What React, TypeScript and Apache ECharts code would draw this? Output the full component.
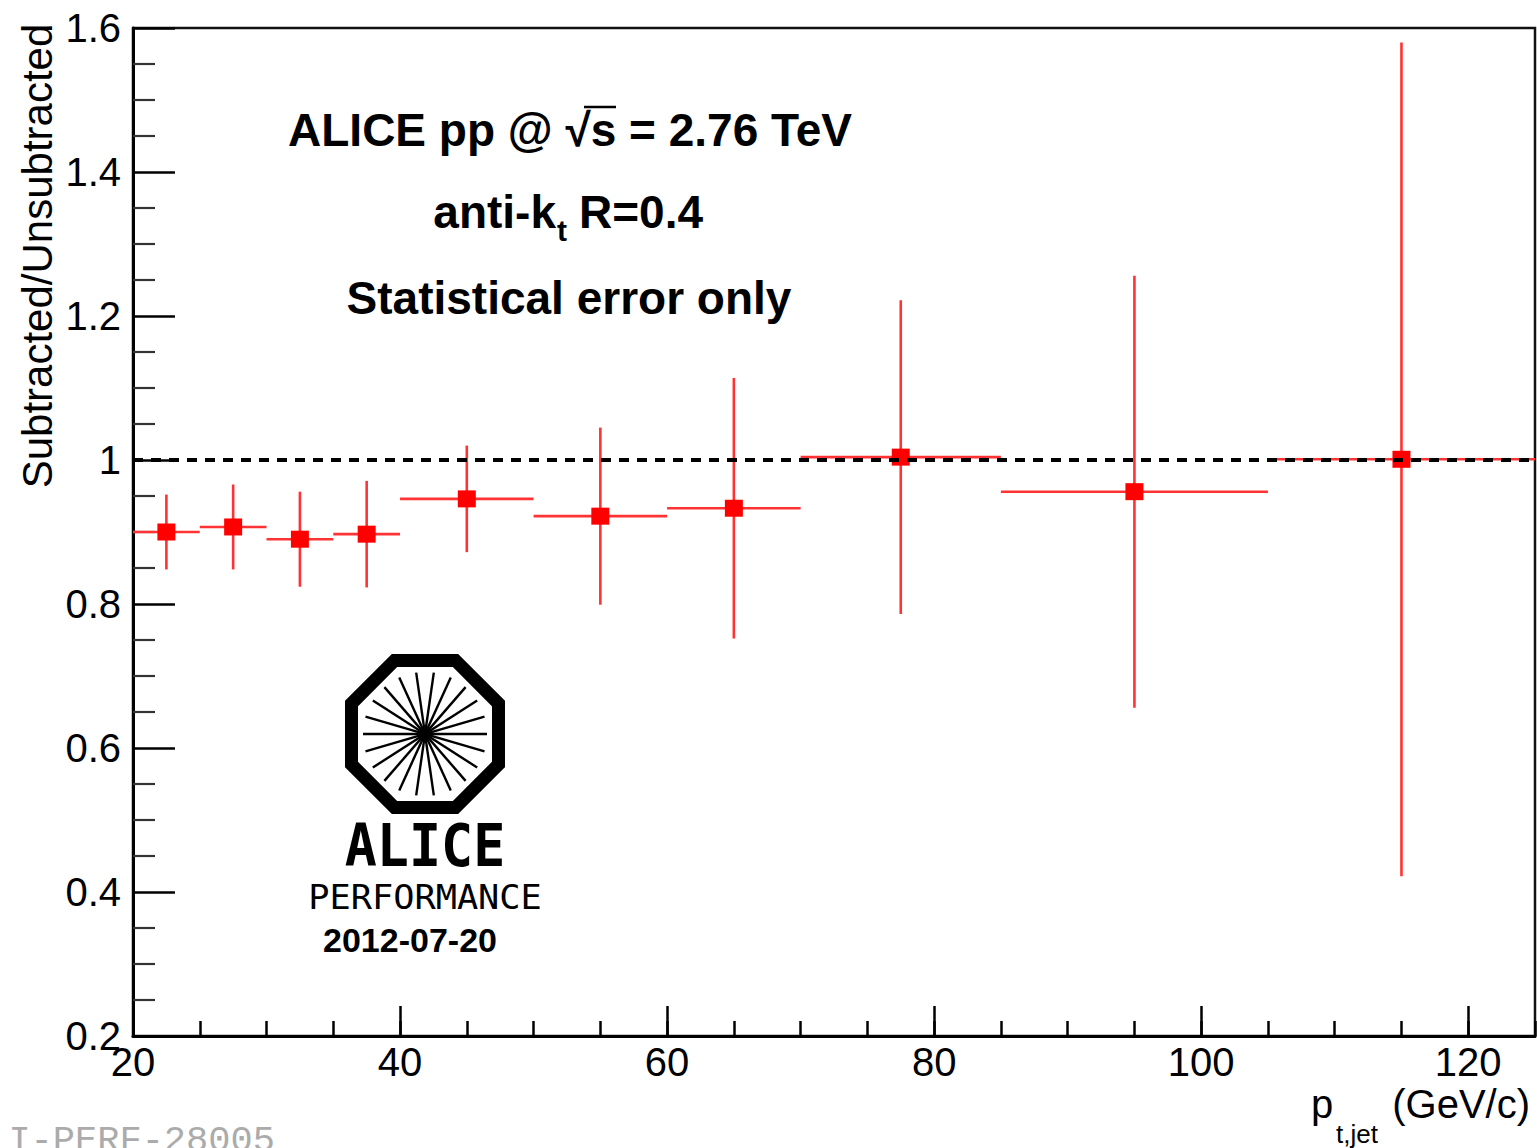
import React, { useEffect, useRef } from 'react';
import * as echarts from 'echarts';

// ---- data ----
const binLow = [20, 25, 30, 35, 40, 50, 60, 70, 85, 105];
const binHigh = [25, 30, 35, 40, 50, 60, 70, 85, 105, 125];
const ratio = [0.9, 0.907, 0.89, 0.897, 0.946, 0.922, 0.933, 1.004, 0.956, 1.001];
const statErr = [0.052, 0.059, 0.066, 0.074, 0.074, 0.123, 0.181, 0.218, 0.3, 0.579];
const referenceLevel = 1;

const xMin = 20;
const xMax = 125;
const xMajor = 20;
const xMinor = 5;
const yMin = 0.2;
const yMax = 1.6;
const yMajor = 0.2;

const FONT = "'Liberation Sans', Arial, Helvetica, sans-serif";

function txt(
  text: string,
  x: number,
  y: number,
  size: number,
  opts: any = {}
) {
  const align = opts.align || 'left';
  const valign = opts.valign || 'middle';
  return {
    type: 'text',
    x,
    y,
    rotation: opts.rotation || 0,
    scaleX: opts.scaleX || 1,
    scaleY: opts.scaleY || 1,
    silent: true,
    z: 100,
    style: {
      text,
      fill: opts.color || '#000',
      fontSize: size,
      fontFamily: opts.family || FONT,
      fontWeight: opts.weight || 'normal',
      align,
      verticalAlign: valign,
      textAlign: align,
      textVerticalAlign: valign,
    },
  };
}

function buildLogo() {
  const cx = 425;
  const cy = 734;
  const els: any[] = [];
  const R = 73.5 / Math.cos(Math.PI / 8);
  const pts: number[][] = [];
  for (let k = 0; k < 8; k++) {
    const a = Math.PI / 8 + (k * Math.PI) / 4;
    pts.push([cx + R * Math.cos(a), cy + R * Math.sin(a)]);
  }
  els.push({
    type: 'polygon',
    shape: { points: pts },
    style: { fill: 'none', stroke: '#000', lineWidth: 13, lineJoin: 'miter' },
    silent: true,
    z: 100,
  });
  const r = 62;
  for (let k = 0; k < 11; k++) {
    const a = (k * Math.PI) / 11;
    els.push({
      type: 'line',
      shape: {
        x1: cx - r * Math.cos(a),
        y1: cy - r * Math.sin(a),
        x2: cx + r * Math.cos(a),
        y2: cy + r * Math.sin(a),
      },
      style: { stroke: '#000', lineWidth: 2.4 },
      silent: true,
      z: 100,
    });
  }
  els.push(
    txt('ALICE', 425, 846, 58, {
      align: 'center',
      family: "'DejaVu Sans Mono', monospace",
      weight: 'bold',
      scaleX: 0.92,
    })
  );
  els.push(
    txt('PERFORMANCE', 425, 897, 33, {
      align: 'center',
      family: "'DejaVu Sans Mono', monospace",
      weight: 'normal',
      scaleX: 1.07,
    })
  );
  els.push(txt('2012-07-20', 410, 940, 34, { align: 'center', weight: 'bold' }));
  return els;
}

export default function App() {
  const ref = useRef<HTMLDivElement>(null);

  useEffect(() => {
    if (!ref.current) return;
    const chart = echarts.init(ref.current, undefined, { renderer: 'svg' });

    const rows = binLow.map((lo, i) => [lo, binHigh[i], ratio[i], statErr[i]]);

    const graphics: any[] = [
      // annotations
      txt('ALICE pp @ \u221As = 2.76 TeV', 570, 130, 46, { align: 'center', weight: 'bold' }),
      {
        type: 'line',
        shape: { x1: 584, y1: 107, x2: 616, y2: 107 },
        style: { stroke: '#000', lineWidth: 2.5 },
        silent: true,
        z: 100,
      },
      txt('anti-k', 556, 212, 46, { align: 'right', weight: 'bold' }),
      txt('t', 557, 230, 30, { align: 'left', weight: 'bold' }),
      txt('R=0.4', 579, 212, 46, { align: 'left', weight: 'bold' }),
      txt('Statistical error only', 569, 298, 46, { align: 'center', weight: 'bold' }),
      // axis titles
      txt('Subtracted/Unsubtracted', 37, 256, 42, { align: 'center', rotation: Math.PI / 2 }),
      txt('p', 1311, 1104, 40, { align: 'left' }),
      txt('t,jet', 1336, 1134, 26, { align: 'left' }),
      txt('(GeV/c)', 1530, 1104, 40, { align: 'right' }),
      // footer id (cut off by the page edge, as in the reference)
      txt('ALI-PERF-28005', -36, 1141, 37, {
        align: 'left',
        family: "'Liberation Mono', 'Courier New', monospace",
        color: '#ababab',
      }),
      ...buildLogo(),
    ];

    chart.setOption({
      animation: false,
      backgroundColor: '#fff',
      grid: {
        left: 133,
        right: 2,
        top: 28,
        bottom: 112,
        show: true,
        borderColor: '#111',
        borderWidth: 2.5,
        backgroundColor: 'transparent',
      },
      xAxis: [
        {
          type: 'value',
          position: 'bottom',
          min: xMin,
          max: xMax,
          interval: xMajor,
          axisLine: { show: true, onZero: false, lineStyle: { color: '#000', width: 3 } },
          axisTick: { show: true, inside: true, length: 30, lineStyle: { color: '#000', width: 2.5 } },
          axisLabel: {
            show: true,
            showMaxLabel: false,
            margin: 6,
            fontSize: 40,
            fontFamily: FONT,
            color: '#000',
          },
          splitLine: { show: false },
        },
        {
          type: 'value',
          position: 'bottom',
          min: xMin,
          max: xMax,
          interval: xMinor,
          axisLine: { show: false, onZero: false },
          axisTick: { show: true, inside: true, length: 15, lineStyle: { color: '#000', width: 2.5 } },
          axisLabel: { show: false },
          splitLine: { show: false },
        },
      ],
      yAxis: {
        type: 'value',
        min: yMin,
        max: yMax,
        interval: yMajor,
        axisLine: { show: true, onZero: false, lineStyle: { color: '#000', width: 3 } },
        axisTick: { show: true, inside: true, length: 42, lineStyle: { color: '#000', width: 2.5 } },
        minorTick: { show: true, splitNumber: 4, length: 22, lineStyle: { color: '#333', width: 2.2 } },
        axisLabel: {
          margin: 12,
          fontSize: 40,
          fontFamily: FONT,
          color: '#000',
        },
        splitLine: { show: false },
        minorSplitLine: { show: false },
      },
      series: [
        {
          type: 'custom',
          xAxisIndex: 0,
          yAxisIndex: 0,
          data: rows,
          encode: { x: [0, 1], y: 2 },
          z: 3,
          renderItem: (params: any, api: any) => {
            const lo = api.value(0);
            const hi = api.value(1);
            const y = api.value(2);
            const e = api.value(3);
            const xc = (lo + hi) / 2;
            const pLo = api.coord([lo, y]);
            const pHi = api.coord([hi, y]);
            const pc = api.coord([xc, y]);
            const pTop = api.coord([xc, y + e]);
            const pBot = api.coord([xc, y - e]);
            const errStyle = { stroke: '#ff3333', lineWidth: 2.6 };
            return {
              type: 'group',
              children: [
                { type: 'line', shape: { x1: pLo[0], y1: pLo[1], x2: pHi[0], y2: pHi[1] }, style: errStyle },
                { type: 'line', shape: { x1: pTop[0], y1: pTop[1], x2: pBot[0], y2: pBot[1] }, style: errStyle },
                {
                  type: 'rect',
                  shape: { x: pc[0] - 9, y: pc[1] - 8.5, width: 18, height: 17 },
                  style: { fill: '#ff0000' },
                },
              ],
            };
          },
        },
        {
          type: 'line',
          data: [],
          z: 5,
          markLine: {
            silent: true,
            symbol: ['none', 'none'],
            label: { show: false },
            lineStyle: { color: '#000', width: 4, type: [10, 8] },
            data: [{ yAxis: referenceLevel }],
          },
        },
      ],
      graphic: graphics,
    });

    return () => {
      chart.dispose();
    };
  }, []);

  return (
    <div
      ref={ref}
      style={{ position: 'absolute', left: 0, top: 0, width: 1537, height: 1148, background: '#fff' }}
    />
  );
}
